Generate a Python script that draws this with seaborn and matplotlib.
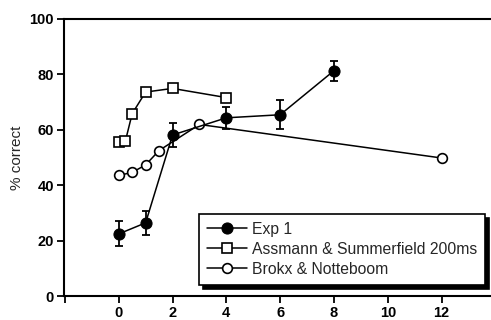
import matplotlib
matplotlib.use("Agg")
import matplotlib.pyplot as plt
import seaborn as sns
import pandas as pd

exp1_x = [0, 1, 2, 4, 6, 8]
exp1_y = [22.4, 26.4, 58.1, 64.3, 65.4, 81.3]
exp1_err = [4.5, 4.3, 4.4, 4.0, 5.3, 3.6]

assmann_x = [0, 0.25, 0.5, 1, 2, 4]
assmann_y = [55.4, 56.0, 65.8, 73.6, 74.9, 71.6]

brokx_x = [0, 0.5, 1, 1.5, 3, 12]
brokx_y = [43.5, 44.6, 47.3, 52.5, 61.9, 49.8]

labels = ["Exp 1", "Assmann & Summerfield 200ms", "Brokx & Notteboom"]
xticks = [-2, 0, 2, 4, 6, 8, 10, 12]
xticklabels = ["", "0", "2", "4", "6", "8", "10", "12"]
yticks = [0, 20, 40, 60, 80, 100]

sns.set_style("ticks")
plt.rcParams['font.family'] = ['Liberation Sans', 'DejaVu Sans']

fig = plt.figure(figsize=(4.91, 3.2), dpi=100)
ax = fig.add_axes([0.130, 0.075, 0.868, 0.866])

df1 = pd.DataFrame({"x": exp1_x, "y": exp1_y})
df2 = pd.DataFrame({"x": assmann_x, "y": assmann_y})
df3 = pd.DataFrame({"x": brokx_x, "y": brokx_y})

ax.errorbar(exp1_x, exp1_y, yerr=exp1_err, fmt="none", ecolor="black",
            elinewidth=1.3, capsize=3, capthick=1.3, zorder=2)
sns.lineplot(data=df2, x="x", y="y", ax=ax, color="black", lw=1.1,
             marker="s", markersize=7, markerfacecolor="white",
             markeredgecolor="black", markeredgewidth=1.2, label=labels[1], zorder=3)
sns.lineplot(data=df3, x="x", y="y", ax=ax, color="black", lw=1.1,
             marker="o", markersize=7, markerfacecolor="white",
             markeredgecolor="black", markeredgewidth=1.2, label=labels[2], zorder=3)
sns.lineplot(data=df1, x="x", y="y", ax=ax, color="black", lw=1.1,
             marker="o", markersize=8, markerfacecolor="black",
             markeredgecolor="black", label=labels[0], zorder=4)

ax.set_xlim(-2.04, 13.8)
ax.set_ylim(0, 100)
ax.set_xticks(xticks)
ax.set_xticklabels(xticklabels)
ax.set_yticks(yticks)
ax.tick_params(direction="out", length=5, width=1.3, labelsize=10.5, colors="black", pad=2)
for t in ax.get_xticklabels() + ax.get_yticklabels():
    t.set_fontweight("bold")
ax.set_xlabel("")
ax.set_ylabel("% correct", fontsize=11, labelpad=4)
for s in ["left", "bottom", "top"]:
    ax.spines[s].set_visible(True)
    ax.spines[s].set_linewidth(1.5)
    ax.spines[s].set_color("black")
ax.spines["right"].set_visible(False)

handles, labs = ax.get_legend_handles_labels()
order = [labs.index(l) for l in labels]
leg = ax.legend([handles[i] for i in order], [labs[i] for i in order],
                loc="lower right", bbox_to_anchor=(0.996, 0.03),
                fontsize=11.3, frameon=True, fancybox=False,
                shadow={"color": "black", "alpha": 1.0, "ox": 3, "oy": -3},
                edgecolor="black", handlelength=2.6, handletextpad=0.3,
                borderpad=0.5, labelspacing=0.32, borderaxespad=0.2)
leg.get_frame().set_linewidth(1.2)

fig.savefig("out.png", dpi=100)
